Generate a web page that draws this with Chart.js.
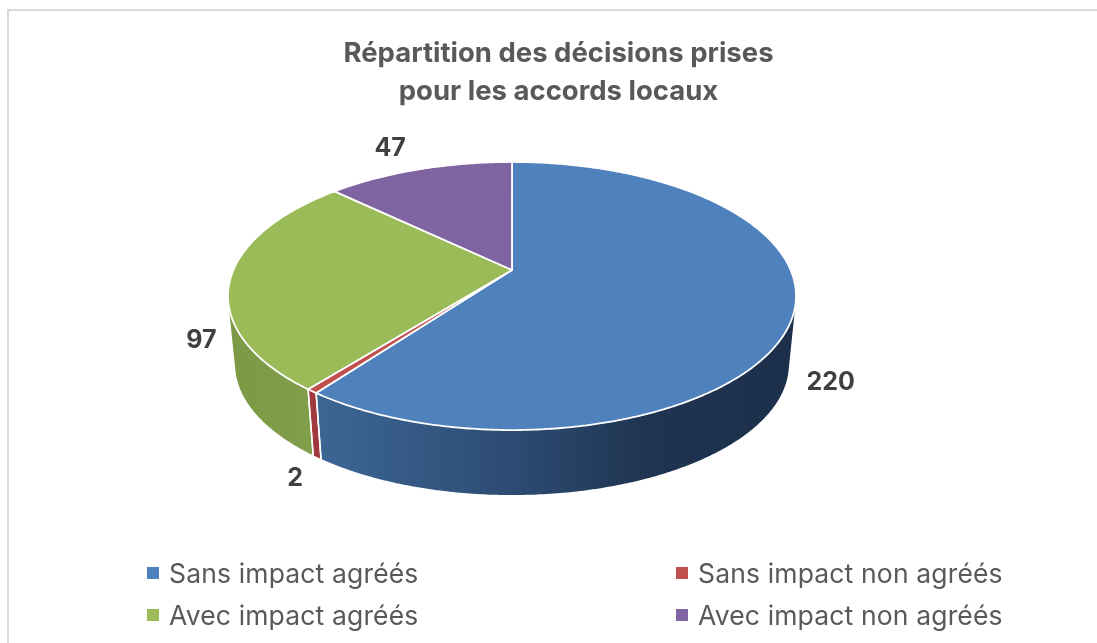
<!DOCTYPE html>
<html lang="fr">
<head>
<meta charset="utf-8">
<title>Répartition des décisions prises</title>
<script src="https://cdn.jsdelivr.net/npm/chart.js@4"></script>
<style>
    html, body { margin: 0; padding: 0; background: #fff; overflow: hidden; }
    #wrap { position: relative; width: 1097px; height: 643px; overflow: hidden; }
    #frame { position: absolute; left: 7px; top: 9px; width: 1200px; height: 800px; border: 2px solid #d9d9d9; }
    #pieChart { position: absolute; left: 0; top: 0; }
    .legend-item { position: absolute; color: #595959; font: 26.5px Inter, sans-serif; letter-spacing: 0.15px; line-height: 30px; white-space: nowrap; }
    .legend-item i { position: absolute; left: -22px; top: 9px; width: 12px; height: 12px; }
</style>
</head>
<body>
<div id="wrap">
    <div id="frame"></div>
    <canvas id="pieChart" width="1097" height="643"></canvas>
    <div id="legend"></div>
</div>
<script>
// data
const categories = ['Sans impact agréés', 'Sans impact non agréés', 'Avec impact agréés', 'Avec impact non agréés'];
const decisions = [220, 2, 97, 47];
const sliceColors = ['#4f81bd', '#c0504d', '#9bbb59', '#8064a2'];
const titleLines = ['Répartition des décisions prises', 'pour les accords locaux'];

// fake 3D view: a circle seen in perspective, apex is not the ellipse centre
const view = { x: 512, y: 270, a: 278.6, b: 129, k: 0.194, depth: 69, shrink: 0.975 };
const labelOffsets = [[37, 70], [-17, 87], [-29, 62], [-29, -21]];
const legendSpots = [[169, 558], [698, 558], [169, 600], [698, 600]];

// angle = chart angle (starts at -PI/2), base = lower rim
function project(angle, base) {
    const t = angle + Math.PI / 2;
    const s = base ? view.shrink : 1;
    const d = 1 + view.k * Math.cos(t);
    return {
        x: view.x + s * view.a * Math.sin(t) / d,
        y: view.y + (base ? view.depth : 0) - s * view.b * Math.cos(t) / d
    };
}

function rimPoints(start, end, base) {
    const pts = [];
    const n = Math.max(2, Math.ceil((end - start) / 0.01));
    for (let i = 0; i <= n; i++) {
        pts.push(project(start + (end - start) * i / n, base));
    }
    return pts;
}

function wallFill(ctx, index) {
    let g;
    if (index === 0) {
        g = ctx.createLinearGradient(318, 0, 790, 0);
        g.addColorStop(0, '#3d6695');
        g.addColorStop(0.42, '#2c4b72');
        g.addColorStop(0.7, '#1f3450');
        g.addColorStop(1, '#1c304c');
        return g;
    }
    if (index === 1) return '#a03a3c';
    if (index === 2) {
        g = ctx.createLinearGradient(230, 0, 316, 0);
        g.addColorStop(0, '#7c9a46');
        g.addColorStop(1, '#819f4a');
        return g;
    }
    return '#5f4a7a';
}

function signedArea(q) {
    let sum = 0;
    q.forEach((p, i) => {
        const n = q[(i + 1) % q.length];
        sum += p.x * n.y - n.x * p.y;
    });
    return sum;
}

const pie3dPlugin = {
    id: 'pie3d',
    beforeDatasetDraw(chart, args) {
        const ctx = chart.ctx;
        const arcs = args.meta.data;
        ctx.save();
        ctx.lineJoin = 'round';

        // walls: one path of small quads, all wound the same way, or the silhouette cancels out
        arcs.forEach((arc, i) => {
            const top = rimPoints(arc.startAngle, arc.endAngle, false);
            const low = rimPoints(arc.startAngle, arc.endAngle, true);
            ctx.beginPath();
            for (let j = 0; j < top.length - 1; j++) {
                const quad = [top[j], top[j + 1], low[j + 1], low[j]];
                if (signedArea(quad) < 0) quad.reverse();
                quad.forEach((p, m) => m ? ctx.lineTo(p.x, p.y) : ctx.moveTo(p.x, p.y));
                ctx.closePath();
            }
            ctx.fillStyle = wallFill(ctx, i);
            ctx.fill();
        });
        ctx.strokeStyle = '#fff';
        ctx.lineWidth = 1.5;
        arcs.forEach(arc => {
            ctx.beginPath();
            [arc.startAngle, arc.endAngle].forEach(a => {
                const p = project(a, false);
                const q = project(a, true);
                if (p.y > view.y + 60) {
                    ctx.moveTo(p.x, p.y);
                    ctx.lineTo(q.x, q.y);
                }
            });
            ctx.stroke();
        });

        // top face
        arcs.forEach((arc, i) => {
            ctx.beginPath();
            ctx.moveTo(view.x, view.y);
            rimPoints(arc.startAngle, arc.endAngle, false).forEach(p => ctx.lineTo(p.x, p.y));
            ctx.closePath();
            ctx.fillStyle = sliceColors[i];
            ctx.fill();
            ctx.strokeStyle = '#fff';
            ctx.lineWidth = 1.8;
            ctx.stroke();
        });
        ctx.restore();
        return false;
    },
    afterDatasetsDraw(chart) {
        const ctx = chart.ctx;
        ctx.save();
        ctx.font = 'bold 25px Inter, sans-serif';
        ctx.fillStyle = '#404040';
        ctx.textAlign = 'center';
        ctx.textBaseline = 'middle';
        chart.getDatasetMeta(0).data.forEach((arc, i) => {
            const p = project((arc.startAngle + arc.endAngle) / 2, false);
            ctx.fillText(String(decisions[i]), p.x + labelOffsets[i][0], p.y + labelOffsets[i][1]);
        });
        ctx.restore();
    }
};

const chart = new Chart(document.getElementById('pieChart').getContext('2d'), {
    type: 'pie',
    data: {
        labels: categories,
        datasets: [{ data: decisions, backgroundColor: sliceColors }]
    },
    options: {
        responsive: false,
        animation: false,
        layout: { padding: { left: 20, top: 25 } },
        plugins: {
            legend: { display: false },
            tooltip: { enabled: false },
            title: {
                display: true,
                text: titleLines,
                color: '#595959',
                font: { family: 'Inter, sans-serif', size: 27.5, weight: 'bold', lineHeight: 1.38 }
            }
        }
    },
    plugins: [pie3dPlugin]
});

const legendBox = document.getElementById('legend');
categories.forEach((name, i) => {
    const item = document.createElement('div');
    item.className = 'legend-item';
    item.style.left = legendSpots[i][0] + 'px';
    item.style.top = legendSpots[i][1] + 'px';
    item.innerHTML = '<i style="background:' + sliceColors[i] + '"></i>' + name;
    legendBox.appendChild(item);
});
</script>
</body>
</html>
